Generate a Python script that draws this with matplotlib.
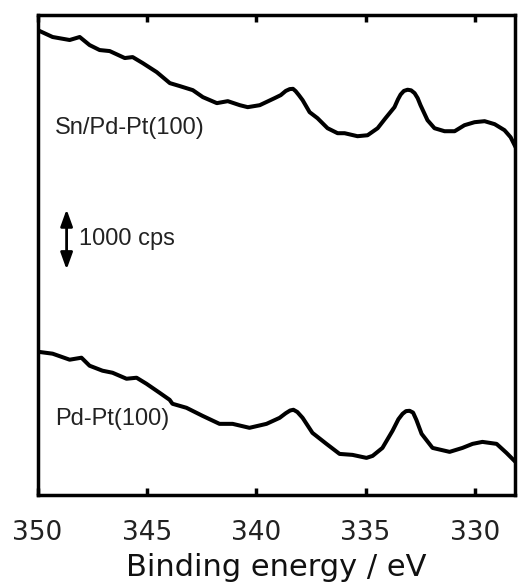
import matplotlib
matplotlib.use("Agg")
import matplotlib.pyplot as plt
import numpy as np

# Sn 3d XPS spectra (binding energy in eV, intensity in cps)
energy_sn = [350.0, 349.31, 348.53, 348.07, 347.62, 347.16, 346.70, 346.01, 345.65, 345.19,
             344.55, 343.95, 343.49, 342.90, 342.44, 341.80, 341.30, 340.75, 340.39, 339.84,
             339.16, 338.88, 338.65, 338.47, 338.32, 338.20, 338.05, 337.88, 337.56, 337.20,
             336.74, 336.28, 335.96, 335.37, 334.91, 334.45, 334.09, 333.68, 333.52, 333.40,
             333.25, 333.08, 332.92, 332.76, 332.62, 332.49, 332.17, 331.85, 331.39, 330.93,
             330.48, 330.02, 329.56, 329.10, 328.65, 328.37, 328.14]
counts_sn = [7733, 7617, 7567, 7617, 7483, 7400, 7383, 7267, 7283, 7183,
             7033, 6850, 6800, 6733, 6617, 6517, 6550, 6483, 6450, 6483,
             6600, 6650, 6720, 6750, 6755, 6717, 6650, 6567, 6367, 6267,
             6100, 6017, 6017, 5967, 5983, 6100, 6267, 6450, 6580, 6660,
             6720, 6740, 6730, 6683, 6600, 6483, 6233, 6100, 6050, 6050,
             6150, 6200, 6217, 6167, 6067, 5950, 5783]

energy_pd = [350.0, 349.31, 348.53, 347.99, 347.62, 347.03, 346.57, 345.93, 345.47, 345.02,
             344.42, 343.96, 343.83, 343.19, 342.46, 341.68, 341.08, 340.31, 339.53, 338.93,
             338.65, 338.45, 338.30, 338.12, 337.88, 337.43, 336.79, 336.19, 335.60, 334.96,
             334.68, 334.23, 333.77, 333.50, 333.31, 333.15, 332.99, 332.83, 332.68, 332.44,
             331.94, 331.16, 330.57, 330.11, 329.66, 329.01, 328.56, 328.10]
counts_pd = [2383, 2350, 2250, 2283, 2150, 2067, 2033, 1933, 1950, 1850,
             1700, 1583, 1517, 1450, 1317, 1183, 1183, 1117, 1183, 1283,
             1360, 1405, 1417, 1380, 1283, 1033, 850, 683, 667, 617,
             650, 783, 1067, 1260, 1350, 1395, 1400, 1370, 1250, 1017,
             783, 717, 783, 850, 883, 850, 700, 533]

x_ticks = [350, 345, 340, 335, 330]
labels = ["Sn/Pd-Pt(100)", "Pd-Pt(100)"]
label_pos = [(349.2, 6100), (349.2, 1267)]
scale_bar = 1000  # cps

fig = plt.figure(figsize=(5.18, 5.88), dpi=100)
ax = fig.add_axes([0.0724, 0.1582, 0.9218, 0.8163])

ax.plot(energy_sn, counts_sn, color="black", linewidth=2.9,
        solid_joinstyle="round", solid_capstyle="round")
ax.plot(energy_pd, counts_pd, color="black", linewidth=2.9,
        solid_joinstyle="round", solid_capstyle="round")

ax.set_xlim(350, 328.17)
ax.set_ylim(0, 7983)
ax.set_xticks(x_ticks)
ax.set_yticks([])
ax.tick_params(axis="x", direction="in", top=True, length=5, width=2.5,
               labelsize=19, pad=18, labelcolor="#222222")
for spine in ax.spines.values():
    spine.set_linewidth(2.5)

ax.set_xlabel("Binding energy / eV", fontsize=22, labelpad=5, color="#111111")

for text, (tx, ty) in zip(labels, label_pos):
    ax.text(tx, ty, text, fontsize=17, family=["Liberation Sans", "DejaVu Sans"],
            ha="left", va="center", color="#222222")

# 1000 cps scale arrow
ax.annotate("", xy=(348.67, 3750), xytext=(348.67, 3750 + scale_bar),
            arrowprops=dict(arrowstyle="<|-|>,head_length=0.5,head_width=0.18",
                            color="black", lw=2.0, mutation_scale=20,
                            shrinkA=0, shrinkB=0))
ax.text(348.1, 4250, f"{scale_bar} cps", fontsize=17,
        family=["Liberation Sans", "DejaVu Sans"], ha="left", va="center", color="#222222")

fig.savefig("out.png", dpi=100)
